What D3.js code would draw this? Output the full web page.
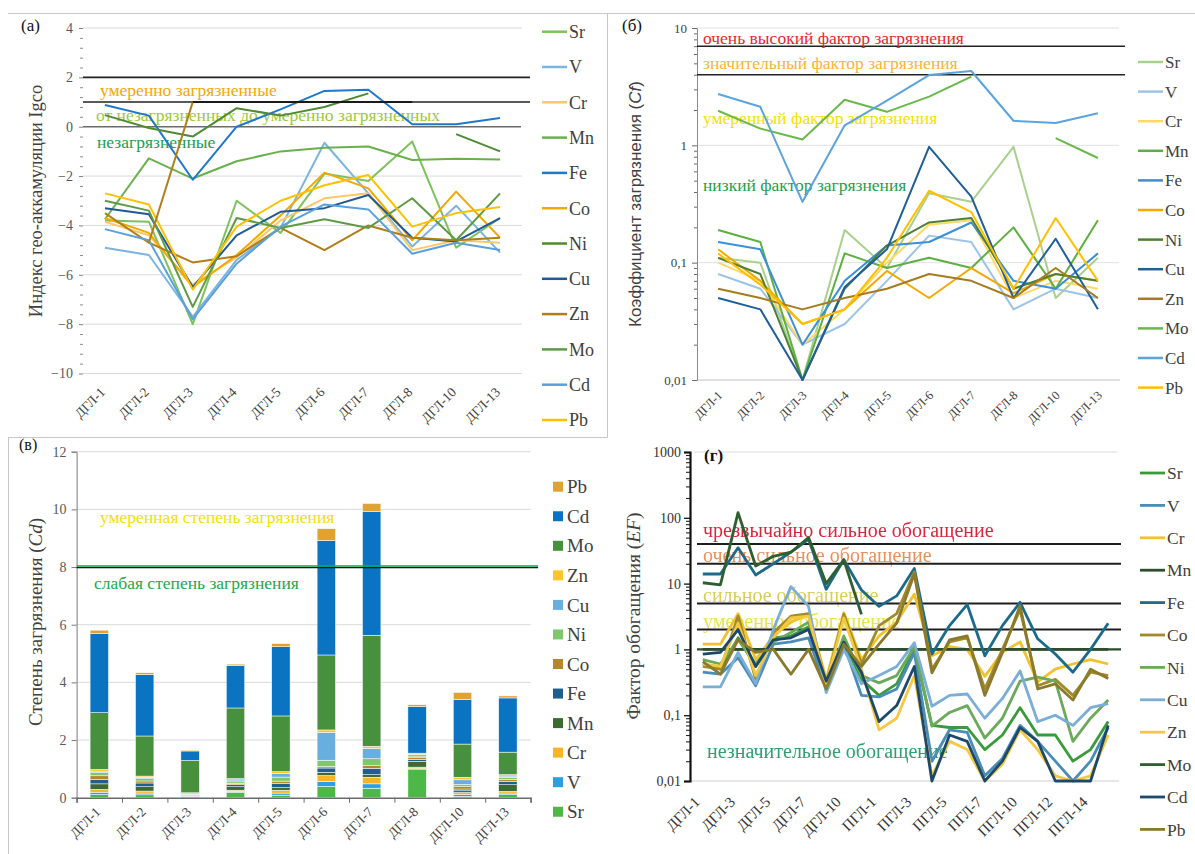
<!DOCTYPE html>
<html>
<head>
<meta charset="utf-8">
<script src="https://cdn.jsdelivr.net/npm/d3@7"></script>
<style>
  body { margin: 0; background: #fff; }
  svg { display: block; }
</style>
</head>
<body>
<svg id="fig" width="1195" height="854"></svg>
<script>
// ---------------- data ----------------
const elements = ["Sr", "V", "Cr", "Mn", "Fe", "Co", "Ni", "Cu", "Zn", "Mo", "Cd", "Pb"];
const sitesD = ["ДГЛ-1", "ДГЛ-2", "ДГЛ-3", "ДГЛ-4", "ДГЛ-5", "ДГЛ-6", "ДГЛ-7", "ДГЛ-8", "ДГЛ-10", "ДГЛ-13"];
const sitesEF = ["ДГЛ-1", "ДГЛ-2", "ДГЛ-3", "ДГЛ-4", "ДГЛ-5", "ДГЛ-6", "ДГЛ-7", "ДГЛ-8", "ДГЛ-10", "ДГЛ-13",
                 "ПГЛ-1", "ПГЛ-2", "ПГЛ-3", "ПГЛ-4", "ПГЛ-5", "ПГЛ-6", "ПГЛ-7", "ПГЛ-8", "ПГЛ-10", "ПГЛ-11",
                 "ПГЛ-12", "ПГЛ-13", "ПГЛ-14", "ПГЛ-15"];

// (а) geo-accumulation index, rows follow `elements`
const igeo = [
  [-3.8, -3.85, -8.0, -3.0, -4.3, -1.9, -2.2, -0.6, -4.9, -3.7],     // Sr
  [-4.9, -5.2, -7.7, -5.4, -4.1, -0.65, -2.7, -4.85, -3.2, -5.1],    // V
  [-3.85, -4.4, -6.4, -5.3, -3.8, -2.9, -2.7, -5.0, -4.6, -4.7],     // Cr
  [-3.75, -1.28, -2.1, -1.4, -1.0, -0.85, -0.8, -1.35, -1.3, -1.33], // Mn
  [0.88, 0.45, -2.15, 0.0, 0.7, 1.45, 1.5, 0.1, 0.1, 0.35],          // Fe
  [-3.7, -4.3, -6.5, -5.2, -3.6, -1.86, -2.5, -4.6, -2.63, -4.5],    // Co
  [0.47, -0.05, -0.4, 0.75, 0.45, 0.8, 1.35, null, -0.3, -1.0],      // Ni
  [-3.3, -3.55, -6.5, -4.4, -3.45, -3.3, -2.77, -4.5, -4.65, -3.7],  // Cu
  [-3.5, -4.7, -5.5, -5.25, -4.1, -5.0, -4.0, -4.5, -4.6, -4.5],     // Zn
  [-3.0, -3.4, -7.3, -3.7, -4.1, -3.75, -4.1, -2.9, -4.6, -2.7],     // Mo
  [-4.15, -4.6, -7.8, -5.55, -4.05, -3.15, -3.35, -5.15, -4.7, -5.0],// Cd
  [-2.7, -3.15, -6.6, -4.05, -3.0, -2.37, -1.96, -4.05, -3.5, -3.25] // Pb
];
const igeoJump = [null, -4.7, 1, null, null, null, null, null, null, null];
const igeoModerateMark = [null, null, 1, 1, 1, 1, 1, 1, null, null];
const igeoLevels = [2, 1];

// (б) contamination factor; (в) is the stacked sum of the same factors
const cf = [
  [0.11, 0.1, 0.01, 0.19, 0.09, 0.39, 0.33, 0.97, 0.05, 0.11],   // Sr
  [0.08, 0.06, 0.02, 0.03, 0.07, 0.17, 0.15, 0.04, 0.06, 0.05],  // V
  [0.1, 0.07, 0.02, 0.04, 0.1, 0.21, 0.23, 0.05, 0.07, 0.06],    // Cr
  [0.19, 0.15, 0.01, 0.12, 0.09, 0.11, 0.09, 0.2, 0.06, 0.23],   // Mn
  [0.15, 0.13, 0.02, 0.07, 0.14, 0.15, 0.22, 0.07, 0.06, 0.12],  // Fe
  [0.13, 0.07, 0.03, 0.04, 0.085, 0.05, 0.09, 0.055, 0.08, 0.07],// Co
  [0.11, 0.08, 0.01, 0.06, 0.14, 0.22, 0.24, 0.06, 0.08, 0.07],  // Ni
  [0.05, 0.04, 0.01, 0.062, 0.13, 0.97, 0.365, 0.05, 0.16, 0.04],// Cu
  [0.06, 0.05, 0.04, 0.05, 0.06, 0.08, 0.07, 0.05, 0.09, 0.05],  // Zn
  [1.97, 1.39, 1.12, 2.45, 1.93, 2.6, 3.85, null, 1.15, 0.78],   // Mo
  [2.74, 2.13, 0.33, 1.48, 2.4, 3.97, 4.3, 1.62, 1.55, 1.88],    // Cd
  [0.12, 0.065, 0.03, 0.04, 0.11, 0.41, 0.27, 0.06, 0.24, 0.07]  // Pb
];
const cfLevels = [7, 4];
const cdLevels = [8];

// (г) enrichment factor
const ef = [
  [0.6, 0.5, 1.5, 0.55, 1.5, 1.6, 2.2, 0.3, 1.3, 0.35, 0.2, 0.3, 1.0, 0.07, 0.065, 0.065, 0.03, 0.05, 0.13, 0.05, 0.05, 0.02, 0.03, 0.08],   // Sr
  [0.45, 0.42, 0.75, 0.28, 1.2, 1.3, 1.5, 0.25, 1.2, 0.2, 0.19, 0.25, 0.9, 0.02, 0.06, 0.055, 0.012, 0.022, 0.07, 0.04, 0.02, 0.01, 0.02, 0.065], // V
  [1.2, 1.2, 3.5, 0.7, 1.6, 2.6, 3.4, 0.35, 3.6, 0.7, 1.6, 2.6, 6.9, 0.8, 1.1, 1.0, 0.39, 0.9, 1.3, 0.32, 0.5, 0.6, 0.7, 0.6],           // Cr
  [1, 1, 1, 1, 1, 1, 1, 1, 1, 1, 1, 1, 1, 1, 1, 1, 1, 1, 1, 1, 1, 1, 1, 1],                                                               // Mn
  [14, 14, 35, 13.5, 20, 30, 47, 8.2, 23, 8, 4.5, 6.5, 17, 0.85, 2.3, 4.8, 0.8, 2.3, 5.2, 1.45, 0.85, 0.45, 1.0, 2.5],                    // Fe
  [0.55, 0.5, 3.2, 0.35, 1.8, 3.2, 3.5, 0.3, 3.4, 0.6, 2.3, 3.5, 15, 0.5, 1.3, 1.5, 0.25, 1.0, 4.0, 0.28, 0.35, 0.2, 0.45, 0.4],          // Co
  [0.7, 0.6, 1.4, 0.6, 1.3, 1.8, 2.6, 0.28, 1.6, 0.4, 0.31, 0.4, 1.1, 0.068, 0.11, 0.14, 0.045, 0.09, 0.33, 0.38, 0.33, 0.04, 0.09, 0.17], // Ni
  [0.27, 0.27, 0.9, 0.3, 2.0, 9.0, 4.5, 0.22, 1.0, 0.3, 0.4, 0.55, 1.26, 0.137, 0.2, 0.21, 0.09, 0.18, 0.47, 0.08, 0.1, 0.07, 0.13, 0.15], // Cu
  [0.6, 0.55, 2.5, 0.4, 1.5, 3.0, 3.2, 0.3, 3.0, 0.5, 0.06, 0.09, 0.4, 0.012, 0.04, 0.03, 0.01, 0.018, 0.06, 0.03, 0.012, 0.01, 0.012, 0.05], // Zn
  [10.3, 9.6, 120, 18.5, 26, 30, 50, 10, 23, 3.4, null, null, null, null, null, null, null, null, null, null, null, null, null, null],   // Mo
  [0.85, 0.9, 2.0, 0.55, 1.4, 1.5, 2.0, 0.33, 1.3, 0.45, 0.08, 0.14, 0.55, 0.01, 0.05, 0.04, 0.01, 0.02, 0.065, 0.04, 0.01, 0.01, 0.01, 0.07], // Cd
  [0.65, 0.42, 1.4, 0.9, 1.0, 0.42, 1.0, 0.25, 1.2, 0.55, 1.2, 2.5, 14, 0.44, 1.4, 1.6, 0.2, 0.9, 4.6, 0.25, 0.3, 0.17, 0.5, 0.36]       // Pb
];
const efLevels = [40, 20, 5, 2];
const efBase = [1];

// ---------------- styles ----------------
const igeoColors = ["#7cc25a", "#79b4e3", "#f8c96b", "#6ab04c", "#1f78c8", "#f2a900", "#4f8a35", "#1f5a96", "#b07d18", "#5e9a45", "#5aa0dc", "#ffc000"];
const cfColors   = ["#a9d18e", "#9dc3e6", "#ffd966", "#5cb040", "#3a8fd8", "#f5a800", "#4f7f35", "#1f5f99", "#a47b1f", "#6ab84a", "#5ba3dc", "#ffc000"];
const cdColors   = ["#4db848", "#2c9fe0", "#f8b423", "#3d6a33", "#1f5f8f", "#b5862c", "#7ec86a", "#68afe0", "#ffc526", "#47903e", "#0a74c2", "#e0a332"];
const efColors   = ["#3a9a3a", "#4a8cb8", "#f2c12e", "#2e4e2e", "#1f6a8a", "#a08a2a", "#6aaa5a", "#7aaed6", "#f5c842", "#2f5f2f", "#1f4a6a", "#8a7a2a"];

const SERIF = '"Liberation Serif","Times New Roman",serif';
const SANS = '"Liberation Sans",Arial,sans-serif';
const fmtComma = d => String(d).replace(".", ",");

const svg = d3.select("#fig").attr("font-family", SERIF);
svg.append("rect").attr("width", 1195).attr("height", 854).attr("fill", "#fff");

const defs = svg.append("defs");
defs.append("filter").attr("id", "soft").attr("x", "-5%").attr("y", "-5%").attr("width", "110%").attr("height", "110%")
  .append("feGaussianBlur").attr("stdDeviation", 0.6);

// panel frames
const frame = svg.append("g").attr("stroke", "#c8c8c8").attr("stroke-width", 1);
frame.append("line").attr("x1", 8).attr("x2", 1195).attr("y1", 13.5).attr("y2", 13.5);
frame.append("line").attr("x1", 607.5).attr("x2", 607.5).attr("y1", 13.5).attr("y2", 437.5);
frame.append("line").attr("x1", 8).attr("x2", 607.5).attr("y1", 437.5).attr("y2", 437.5);
frame.append("line").attr("x1", 8.5).attr("x2", 8.5).attr("y1", 437.5).attr("y2", 854);

// ---------------- helpers ----------------
function minorLogTicks(domain) {
  const out = [];
  const lo = Math.round(Math.log10(domain[0])), hi = Math.round(Math.log10(domain[1]));
  for (let e = lo; e < hi; e++) for (let k = 2; k <= 9; k++) out.push(+(k * Math.pow(10, e)).toPrecision(6));
  return out;
}

function drawSeries(g, x, y, cats, rows, colors, width) {
  const line = d3.line()
    .defined(d => d[1] != null)
    .x(d => x(d[0]) + x.bandwidth() / 2)
    .y(d => y(d[1]));
  rows.forEach((vals, i) => {
    g.append("path")
      .datum(cats.map((c, j) => [c, vals[j]]))
      .attr("d", line)
      .attr("fill", "none")
      .attr("stroke", colors[i])
      .attr("stroke-width", width)
      .attr("stroke-linejoin", "round");
  });
}

function levelLines(g, y, levels, x1, x2, color, width) {
  g.append("g").selectAll("line").data(levels).join("line")
    .attr("x1", x1).attr("x2", x2)
    .attr("y1", d => y(d)).attr("y2", d => y(d))
    .attr("stroke", color).attr("stroke-width", width);
}

function xLabels(g, x, yPos, values, dx, dy, fs, color) {
  const ax = g.append("g").attr("transform", `translate(0,${yPos})`)
    .call(d3.axisBottom(x).tickValues(values).tickSize(0));
  ax.select(".domain").remove();
  ax.attr("font-family", SERIF);
  ax.selectAll("text")
    .attr("x", 0).attr("y", 0).attr("dy", 0)
    .attr("transform", `translate(${dx},${dy}) rotate(-45)`)
    .attr("text-anchor", "end")
    .attr("fill", color || "#404040")
    .style("font-size", fs + "px");
}

function lineLegend(g, names, colors, x0, y0, step, fs, sw) {
  names.forEach((n, i) => {
    const yy = y0 + i * step;
    g.append("line").attr("x1", x0).attr("x2", x0 + 25).attr("y1", yy).attr("y2", yy)
      .attr("stroke", colors[i]).attr("stroke-width", sw);
    g.append("text").attr("x", x0 + 27).attr("y", yy).attr("dy", "0.35em")
      .attr("fill", "#404040").style("font-size", fs + "px").text(n);
  });
}

function yTitle(g, x, y, parts, fs, family) {
  const t = g.append("text").attr("transform", `translate(${x},${y}) rotate(-90)`)
    .attr("text-anchor", "middle").attr("fill", "#404040")
    .style("font-size", fs + "px").style("font-family", family);
  parts.forEach(p => t.append("tspan").style("font-style", p.italic ? "italic" : "normal").text(p.text));
}

function note(g, x, y, text, color, fs) {
  g.append("text").attr("x", x).attr("y", y).attr("fill", color)
    .style("font-size", fs + "px").text(text);
}

// ======================= (а) Igeo =======================
{
  const g = svg.append("g");
  const x = d3.scaleBand().domain(sitesD).range([83, 522]);
  const y = d3.scaleLinear().domain([-10, 4]).range([373.5, 28]);
  const majors = d3.range(-10, 5, 2);

  g.append("g").selectAll("line").data(majors.filter(v => v !== 0)).join("line")
    .attr("x1", 83).attr("x2", 522).attr("y1", d => y(d)).attr("y2", d => y(d))
    .attr("stroke", "#dadada");
  levelLines(g, y, [0], 83, 521, "#6b6b6b", 1.4);
  levelLines(g, y, igeoLevels, 83, 530, "#222", 1.6);

  const ay = g.append("g").attr("transform", "translate(83,0)")
    .call(d3.axisLeft(y).tickValues(majors).tickSize(4).tickPadding(6));
  ay.select(".domain").remove();
  ay.attr("font-family", SERIF).style("font-size", "14px");
  ay.selectAll("line").attr("stroke", "#808080");
  ay.selectAll("text").attr("fill", "#595959");
  const minors = d3.range(0, 35).map(k => +(-10 + k * 0.4).toFixed(2)).filter(v => Math.abs(v / 2 - Math.round(v / 2)) > 1e-6);
  const aym = g.append("g").attr("transform", "translate(83,0)")
    .call(d3.axisLeft(y).tickValues(minors).tickSize(3).tickFormat(""));
  aym.select(".domain").remove();
  aym.selectAll("line").attr("stroke", "#8a8a8a");

  note(g, 100, 96, "умеренно загрязненные", "#f5a800", 17.5);
  note(g, 96, 121, "от незагрязненных до умеренно загрязненных", "#9cc83a", 17.5);
  note(g, 97, 148, "незагрязненные", "#1a9e50", 17.5);

  const lines = g.append("g");
  drawSeries(lines, x, y, sitesD, igeo, igeoColors, 2);
  drawSeries(lines, x, y, sitesD, [igeoJump], ["#b07d18"], 2);
  drawSeries(lines, x, y, sitesD, [igeoModerateMark], ["#1a1a1a"], 2);

  xLabels(g, x, 373.5, sitesD, 1, 19.5, 13.5);
  lineLegend(g, elements, igeoColors, 542, 31.7, 35.3, 18, 2.5);
  yTitle(g, 42, 201, [{ text: "Индекс гео-аккамуляции Igco" }], 18.5, SERIF);
  g.append("text").attr("x", 21).attr("y", 31).style("font-size", "17px").attr("fill", "#111").text("(а)");
}

// ======================= (б) Cf =======================
{
  const g = svg.append("g");
  const x = d3.scaleBand().domain(sitesD).range([697, 1119]);
  const y = d3.scaleLog().domain([0.01, 10]).range([380, 28]);
  const majors = [0.01, 0.1, 1, 10];

  g.append("g").selectAll("line").data([0.1, 1, 10]).join("line")
    .attr("x1", 697).attr("x2", 1119).attr("y1", d => y(d)).attr("y2", d => y(d))
    .attr("stroke", "#e2e2e2");
  levelLines(g, y, [0.01], 697, 1120, "#c4c4c4", 1.2);

  const ay = g.append("g").attr("transform", "translate(697,0)")
    .call(d3.axisLeft(y).tickValues(majors).tickFormat(fmtComma).tickSize(5).tickPadding(5));
  ay.attr("font-family", SERIF).style("font-size", "13px");
  ay.select(".domain").attr("stroke", "#8c8c8c");
  ay.selectAll("line").attr("stroke", "#6b6b6b");
  ay.selectAll("text").attr("fill", "#404040");
  const aym = g.append("g").attr("transform", "translate(697,0)")
    .call(d3.axisLeft(y).tickValues(minorLogTicks(y.domain())).tickSize(3).tickFormat(""));
  aym.select(".domain").remove();
  aym.selectAll("line").attr("stroke", "#6b6b6b");

  levelLines(g, y, cfLevels, 697, 1125, "#222", 1.5);

  note(g, 703, 44, "очень высокий фактор загрязнения", "#e8262b", 17.5);
  note(g, 703, 69, "значительный фактор загрязнения", "#f6b436", 17.5);
  note(g, 703, 124, "умеренный фактор загрязнения", "#f2e200", 17.5);
  note(g, 703, 191, "низкий фактор загрязнения", "#1e9e4a", 17.5);

  drawSeries(g.append("g"), x, y, sitesD, cf, cfColors, 2);

  xLabels(g, x, 380, sitesD, 5, 16, 12.5);
  lineLegend(g, elements, cfColors, 1138, 62, 29.6, 17, 2.5);
  yTitle(g, 641, 204, [{ text: "Коэффициент загрязнения (" }, { text: "Cf", italic: true }, { text: ")" }], 17, SANS);
  g.append("text").attr("x", 622).attr("y", 31).style("font-size", "17px").attr("fill", "#111").text("(б)");
}

// ======================= (в) Cd =======================
{
  const g = svg.append("g");
  const x = d3.scaleBand().domain(sitesD).range([76.6, 530.6]).paddingInner(0.595).paddingOuter(0.2975);
  const y = d3.scaleLinear().domain([0, 12]).range([797.7, 451.7]);

  g.append("g").selectAll("line").data(d3.range(2, 13, 2)).join("line")
    .attr("x1", 76.6).attr("x2", 530.6).attr("y1", d => y(d)).attr("y2", d => y(d))
    .attr("stroke", "#dadada");

  const rows = sitesD.map((s, j) => {
    const r = { site: s };
    elements.forEach((e, i) => { r[e] = cf[i][j] == null ? 0 : cf[i][j]; });
    return r;
  });
  const stacked = d3.stack().keys(elements)(rows);
  g.append("g").selectAll("g").data(stacked).join("g")
    .attr("fill", (d, i) => cdColors[i])
    .selectAll("rect").data(d => d).join("rect")
    .attr("x", d => x(d.data.site))
    .attr("width", x.bandwidth())
    .attr("y", d => y(d[1]))
    .attr("height", d => Math.max(0, y(d[0]) - y(d[1])))
    .attr("stroke", "#fff").attr("stroke-width", 0.5);

  const ay = g.append("g").attr("transform", "translate(76.6,0)")
    .call(d3.axisLeft(y).tickValues(d3.range(0, 13, 2)).tickSize(5).tickPadding(5));
  ay.attr("font-family", SERIF).style("font-size", "14px");
  ay.select(".domain").attr("stroke", "#7a7a7a");
  ay.selectAll("line").attr("stroke", "#7a7a7a");
  ay.selectAll("text").attr("fill", "#595959");

  const xEdge = d3.scaleLinear().domain([0, sitesD.length]).range(x.range());
  const ax = g.append("g").attr("transform", `translate(0,${y(0)})`)
    .call(d3.axisBottom(xEdge).tickValues(d3.range(sitesD.length + 1)).tickSize(5).tickFormat(""));
  ax.select(".domain").attr("stroke", "#6b6b6b").attr("stroke-width", 1.5);
  ax.selectAll("line").attr("stroke", "#6b6b6b");

  g.append("g").selectAll("line").data(cdLevels).join("line")
    .attr("x1", 76.6).attr("x2", 538).attr("y1", d => y(d) - 1).attr("y2", d => y(d) - 1)
    .attr("stroke", "#00b050").attr("stroke-width", 1.5);
  g.append("g").selectAll("line").data(cdLevels).join("line")
    .attr("x1", 76.6).attr("x2", 538).attr("y1", d => y(d) + 0.6).attr("y2", d => y(d) + 0.6)
    .attr("stroke", "#111").attr("stroke-width", 1.3);

  note(g, 100, 523, "умеренная степень загрязнения", "#f5e000", 17.5);
  note(g, 94, 589, "слабая степень загрязнения", "#22a84a", 17.5);

  xLabels(g, x, y(0), sitesD, 2, 15, 13.5);

  // legend: top entry is the top of the stack
  const leg = g.append("g");
  elements.slice().reverse().forEach((e, k) => {
    const i = elements.length - 1 - k;
    const yy = 486.7 + k * 29.55;
    leg.append("rect").attr("x", 553).attr("y", yy - 5).attr("width", 10).attr("height", 10).attr("fill", cdColors[i]);
    leg.append("text").attr("x", 567).attr("y", yy).attr("dy", "0.35em").attr("fill", "#404040")
      .style("font-size", "19px").text(e);
  });

  yTitle(g, 42, 622, [{ text: "Степень загрязнения (" }, { text: "Cd", italic: true }, { text: ")" }], 19, SERIF);
  g.append("text").attr("x", 19).attr("y", 450).style("font-size", "16px").attr("fill", "#111").text("(в)");
}

// ======================= (г) EF =======================
{
  const g = svg.append("g");
  const x = d3.scaleBand().domain(sitesEF).range([694, 1117]);
  const y = d3.scaleLog().domain([0.01, 1000]).range([781, 452]);

  levelLines(g, y, [1000], 694, 1117, "#dcdcdc", 1);
  levelLines(g, y, [0.01], 690, 1119, "#cfcfcf", 1.2);

  const ay = g.append("g").attr("transform", "translate(690,0)")
    .call(d3.axisLeft(y).tickValues([0.01, 0.1, 1, 10, 100, 1000]).tickFormat(fmtComma).tickSize(6).tickPadding(3));
  ay.attr("font-family", SERIF).style("font-size", "14px");
  ay.select(".domain").attr("stroke", "#111").attr("stroke-width", 2.2);
  ay.selectAll("line").attr("stroke", "#111").attr("stroke-width", 1.3);
  ay.selectAll("text").attr("fill", "#333");
  const aym = g.append("g").attr("transform", "translate(690,0)")
    .call(d3.axisLeft(y).tickValues(minorLogTicks(y.domain())).tickSize(4).tickFormat(""));
  aym.select(".domain").remove();
  aym.selectAll("line").attr("stroke", "#222").attr("stroke-width", 1.1);

  const notes = g.append("g").attr("filter", "url(#soft)");
  note(notes, 703, 537, "чрезвычайно сильное обогащение", "#d8283c", 20);
  note(notes, 703, 562, "очень сильное обогащение", "#e8905a", 20);
  note(notes, 703, 602, "сильное обогащение", "#d8cf5a", 20);
  note(notes, 703, 628, "умеренное обогащение", "#e6e64a", 20);
  note(notes, 707, 758, "незначительное обогащение", "#2ea070", 20);

  levelLines(g, y, efLevels, 697, 1121, "#1e1e1e", 2);
  levelLines(g, y, efBase, 697, 1121, "#2d4a2d", 2.4);

  const lines = g.append("g").attr("filter", "url(#soft)");
  drawSeries(lines, x, y, sitesEF, ef, efColors, 2.8);

  xLabels(g, x, 781, sitesEF.filter((_, i) => i % 2 === 0), -2, 22, 15, "#333");
  lineLegend(g, elements, efColors, 1140, 473, 32.4, 17.5, 2.8);
  yTitle(g, 640, 616, [{ text: "Фактор обогащения (" }, { text: "EF", italic: true }, { text: ")" }], 19.5, SERIF);
  g.append("text").attr("x", 704).attr("y", 461).style("font-size", "17px").style("font-weight", "bold")
    .attr("fill", "#111").text("(г)");
}
</script>
</body>
</html>
